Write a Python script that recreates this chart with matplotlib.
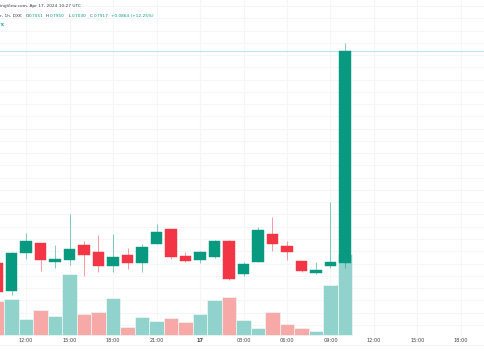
import matplotlib
matplotlib.use("Agg")
import matplotlib.pyplot as plt
import matplotlib.dates as mdates
import matplotlib.transforms as mtransforms
from matplotlib.lines import Line2D
import numpy as np
import pandas as pd

# ---- data (1h candles, DXK) ----
times = pd.date_range("2024-04-16 10:00", periods=25, freq="h")
opens  = [0.7051, 0.6938, 0.7094, 0.7132, 0.7057, 0.7064, 0.7126, 0.7096, 0.7041, 0.7085,
          0.7051, 0.7130, 0.7190, 0.7081, 0.7064, 0.7075, 0.7143, 0.7007, 0.7057, 0.7170,
          0.7121, 0.7060, 0.7010, 0.7041, 0.7051]
highs  = [0.7060, 0.7095, 0.7173, 0.7134, 0.7126, 0.7252, 0.7143, 0.7166, 0.7170, 0.7112,
          0.7128, 0.7210, 0.7192, 0.7098, 0.7100, 0.7145, 0.7145, 0.7057, 0.7200, 0.7241,
          0.7141, 0.7062, 0.7056, 0.7302, 0.7950]
lows   = [0.6925, 0.6922, 0.7068, 0.7021, 0.7033, 0.7044, 0.7000, 0.7017, 0.7014, 0.7028,
          0.7014, 0.7128, 0.7068, 0.7057, 0.7051, 0.7073, 0.6983, 0.6999, 0.7056, 0.7102,
          0.7064, 0.7017, 0.7008, 0.7033, 0.7030]
closes = [0.6935, 0.7094, 0.7143, 0.7064, 0.7068, 0.7108, 0.7085, 0.7041, 0.7078, 0.7051,
          0.7119, 0.7177, 0.7075, 0.7059, 0.7098, 0.7143, 0.6987, 0.7048, 0.7185, 0.7130,
          0.7096, 0.7019, 0.7023, 0.7055, 0.7917]
volumes = [333, 360, 153, 246, 186, 610, 206, 223, 363, 73, 173, 136, 166, 123, 210,
           343, 380, 143, 63, 223, 103, 63, 36, 500, 806]

tick_times = pd.date_range("2024-04-16 12:00", periods=11, freq="3h")
tick_labels = ["12:00", "15:00", "18:00", "21:00", "17", "03:00", "06:00", "09:00",
               "12:00", "15:00", "18:00"]

header1 = "ingView.com, Apr 17, 2024 10:27 UTC"
symbol_txt = "r, 1h, DXK"
ohlc_txt = [("O", "0.7051"), ("H", "0.7950"), ("L", "0.7030"), ("C", "0.7917")]
change_txt = "+0.0864 (+12.25%)"
vol_txt = "TK"

# ---- style ----
UP = "#089981"
DOWN = "#F23645"
UP_VOL = "#92D2CC"
DOWN_VOL = "#F7A9A7"
GRID = "#F5F6F8"
TEXT = "#3d414b"

W, H = 485, 360
fig = plt.figure(figsize=(W / 100, H / 100), dpi=100)
fig.patch.set_facecolor("white")
axv = fig.add_axes([0, 0, 1, 1])
ax = fig.add_axes([0, 0, 1, 1], sharex=axv)
ax.patch.set_visible(False)
axv.patch.set_facecolor("white")
for a in (ax, axv):
    for s in a.spines.values():
        s.set_visible(False)
    a.tick_params(left=False, bottom=False, labelleft=False, labelbottom=False)

xs = mdates.date2num(times)
hour = 1 / 24.0
t0 = mdates.date2num(pd.Timestamp("2024-04-16 12:00"))
px_per_hour = 14.5
x0_px = 26.0
ax.set_xlim(t0 - (x0_px / px_per_hour) * hour, t0 + ((W - x0_px) / px_per_hour) * hour)

# price scale
ppx = 2451.0
last_c = closes[-1]
y_last = 51.0
ax.set_ylim(last_c - (H - y_last) / ppx, last_c + y_last / ppx)

# volume scale (bottom of volume pane at pixel 334.7)
vol_bottom_px = 334.7
vscale = 10.0  # volume units per pixel
axv.set_ylim(-(H - vol_bottom_px) * vscale, vol_bottom_px * vscale)

# grid (drawn on the volume/back axes so everything sits above it)
bottom_frac = (H - vol_bottom_px) / H
gy = np.arange(0.680, 0.815, 0.005)
for g in gy:
    ypx = y_last + (last_c - g) * ppx
    axv.axhline((vol_bottom_px - ypx) * vscale, color=GRID, lw=0.8, zorder=0)
for tt in mdates.date2num(tick_times):
    axv.axvline(tt, ymin=bottom_frac, ymax=1, color=GRID, lw=0.8, zorder=0)
fig.add_artist(Line2D([0, 1], [(H - 345) / H] * 2, color="#F2F3F5", lw=0.8,
                      transform=fig.transFigure))

# volume bars
vcols = [UP_VOL if c >= o else DOWN_VOL for o, c in zip(opens, closes)]
axv.bar(xs, volumes, width=hour, color=vcols, edgecolor="#eef8f6", linewidth=0.5,
        align="center", zorder=1)

# last price line
ax.axhline(last_c, color="#c4e7e0", lw=0.9, zorder=1)

# candles
body_w = hour * 11.3 / 14.5
for x, o, h, l, c in zip(xs, opens, highs, lows, closes):
    col = UP if c >= o else DOWN
    ax.vlines(x, l, h, color=col, lw=0.7, alpha=0.5, zorder=2)
    ax.bar(x, max(abs(c - o), 0.0004), bottom=min(o, c),
           width=body_w, color=col, edgecolor=col, linewidth=0.3, zorder=3)

# time labels
trans = mtransforms.blended_transform_factory(ax.transData, ax.transAxes)
for tt, lab in zip(mdates.date2num(tick_times), tick_labels):
    ax.text(tt, (H - 340.7) / H, lab, transform=trans, ha="center", va="center",
            fontsize=3.6, color=TEXT, fontweight="bold" if lab == "17" else "normal")

# header
fs = 3.1
ft = fig.transFigure
def ptext(xpx, ypx, s, color, **kw):
    return fig.text(xpx / W, 1 - ypx / H, s, color=color, fontsize=fs, va="center",
                    ha="left", transform=ft, **kw)

ptext(0, 6, header1, TEXT)
ptext(0, 16, symbol_txt, TEXT)
xpos = [25.5, 46, 68.5, 90]
for (k, v), xp in zip(ohlc_txt, xpos):
    ptext(xp, 16, k, TEXT)
    ptext(xp + 3.4, 16, v, UP)
ptext(111, 16, change_txt, UP)
ptext(0, 24.5, vol_txt, UP)

fig.savefig("out.png", dpi=100, facecolor="white")
